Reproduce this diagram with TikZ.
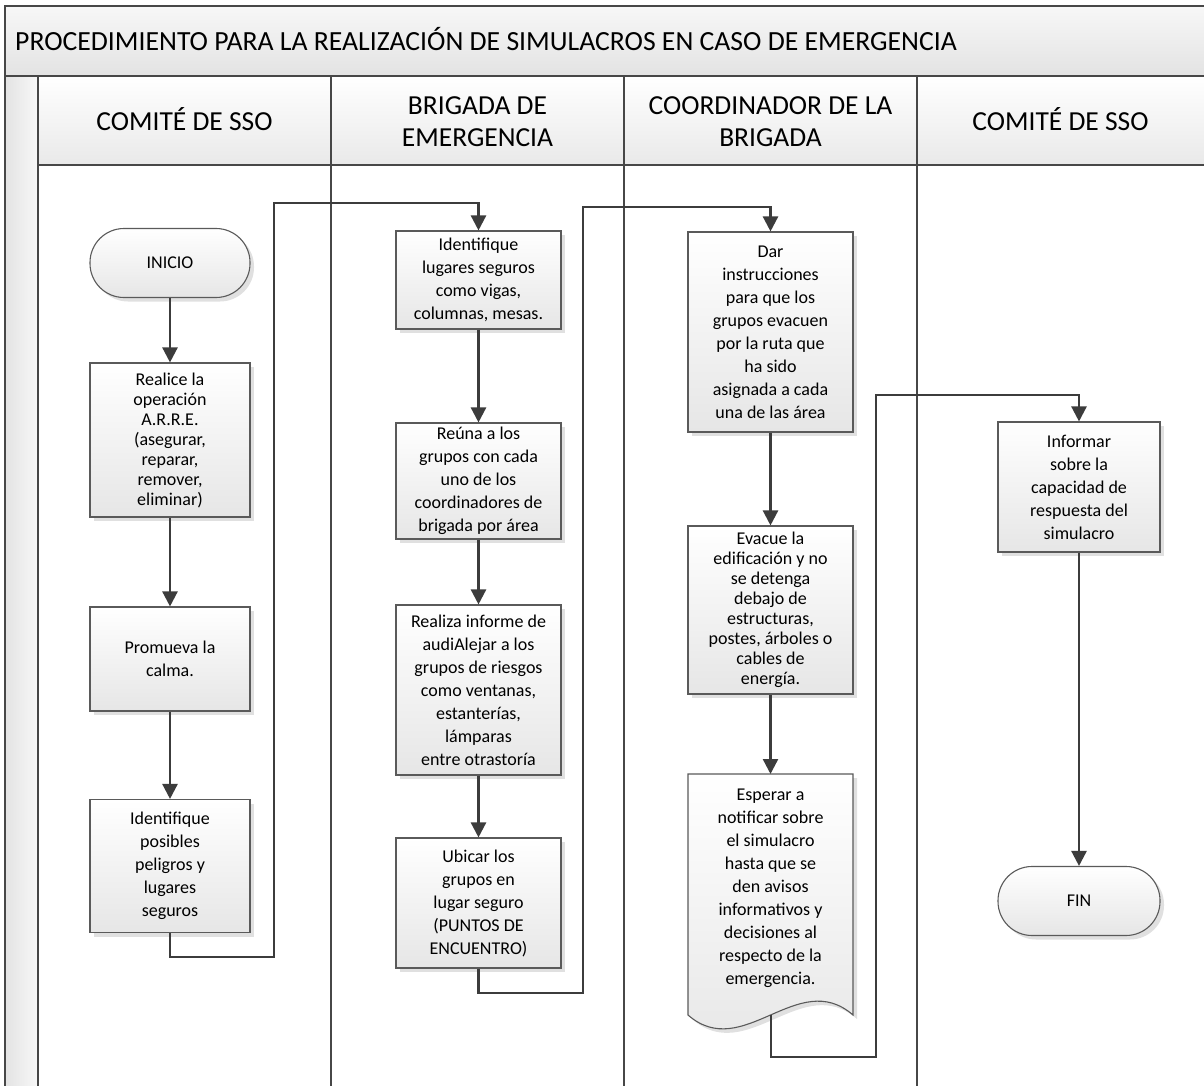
\documentclass[tikz,border=0pt]{standalone}
\usepackage{fontspec}
\setmainfont{Carlito}
\usetikzlibrary{arrows.meta,shadows}

\definecolor{framegray}{HTML}{474747}
\definecolor{linegray}{HTML}{3C3C3C}
\definecolor{boxline}{HTML}{5A5A5A}
\definecolor{cellbottom}{HTML}{E9E9E9}
\definecolor{boxbottom}{HTML}{E6E6E6}
\definecolor{stripleft}{HTML}{E3E3E3}
\definecolor{stripright}{HTML}{F8F8F8}

\newcommand{\boxfont}{\fontsize{18}{23}\selectfont}
\newcommand{\tightfont}{\fontsize{18}{20}\selectfont}
\newcommand{\headfont}{\fontsize{27.5}{32}\selectfont}
\newcommand{\titlefont}{\fontsize{27.7}{32}\selectfont}

\begin{document}
\begin{tikzpicture}[x=1pt,y=-1pt,
  frame/.style={draw=framegray, line width=1.4pt},
  cell/.style={frame, top color=white, bottom color=cellbottom},
  headtext/.style={font=\headfont, align=center, inner sep=0pt},
  stepbox/.style={draw=boxline, line width=1.1pt, top color=white,
    bottom color=boxbottom, align=center, font=\boxfont, inner sep=2pt,
    drop shadow={shadow xshift=4pt, shadow yshift=-4pt, fill=black, opacity=0.12}},
  termbox/.style={stepbox, rounded corners=34pt, minimum height=69pt},
  doctext/.style={align=center, font=\boxfont, inner sep=0pt},
  flow/.style={draw=linegray, line width=2.4pt, -{Triangle[length=15pt,width=15pt]}},
]
\useasboundingbox (0,0) rectangle (1204,1086);
\fill[white] (0,0) rectangle (1204,1086);

% pool frame: title band, side strip, lane bodies and lane headers
\path[frame, top color=white!97!black, bottom color=white!89!black] (5,6) rectangle (1215,76);
\path[frame, left color=stripleft, right color=stripright] (5,76) rectangle (38,1100);
\path[frame, fill=white] (38,165) rectangle (331,1100);
\path[frame, fill=white] (331,165) rectangle (624,1100);
\path[frame, fill=white] (624,165) rectangle (917,1100);
\path[frame, fill=white] (917,165) rectangle (1215,1100);
\path[cell] (38,76) rectangle (331,165);
\path[cell] (331,76) rectangle (624,165);
\path[cell] (624,76) rectangle (917,165);
\path[cell] (917,76) rectangle (1215,165);

\node[headtext, font=\titlefont, anchor=base west] (title) at (15,51)
  {PROCEDIMIENTO PARA LA REALIZACIÓN DE SIMULACROS EN CASO DE EMERGENCIA};
\node[headtext, anchor=base] (lane1) at (184.5,131) {COMITÉ DE SSO};
\node[headtext] (lane2) at (477.5,122) {BRIGADA DE\\EMERGENCIA};
\node[headtext] (lane3) at (770.5,122) {COORDINADOR DE LA\\BRIGADA};
\node[headtext, anchor=base] (lane4) at (1060.5,131) {COMITÉ DE SSO};

% lane 1: Comité de SSO
\node[termbox, minimum width=160pt] (inicio) at (170,263) {INICIO};
\node[stepbox, minimum width=160pt, minimum height=154pt, font=\tightfont] (a1) at (170,440)
  {Realice la\\operación\\A.R.R.E.\\(asegurar,\\reparar,\\remover,\\eliminar)};
\node[stepbox, minimum width=160pt, minimum height=104pt] (a2) at (170,659)
  {Promueva la\\calma.};
\node[stepbox, minimum width=160pt, minimum height=133pt] (a3) at (170,866)
  {Identifique\\posibles\\peligros y\\lugares\\seguros};

% lane 2: Brigada de emergencia
\node[stepbox, minimum width=165pt, minimum height=98pt] (b1) at (478.5,280)
  {Identifique\\lugares seguros\\como vigas,\\columnas, mesas.};
\node[stepbox, minimum width=165pt, minimum height=116pt] (b2) at (478.5,481)
  {Reúna a los\\grupos con cada\\uno de los\\coordinadores de\\brigada por área};
\node[stepbox, minimum width=165pt, minimum height=170pt] (b3) at (478.5,690)
  {Realiza informe de\\audiAlejar a los\\grupos de riesgos\\como ventanas,\\estanterías,\\lámparas\\entre otrastoría};
\node[stepbox, minimum width=165pt, minimum height=130pt] (b4) at (478.5,903)
  {Ubicar los\\grupos en\\lugar seguro\\(PUNTOS DE\\ENCUENTRO)};

% lane 3: Coordinador de la brigada
\node[stepbox, minimum width=165pt, minimum height=200pt] (c1) at (770.5,332)
  {Dar\\instrucciones\\para que los\\grupos evacuen\\por la ruta que\\ha sido\\asignada a cada\\una de las área};
\node[stepbox, minimum width=165pt, minimum height=168pt, font=\tightfont] (c2) at (770.5,610)
  {Evacue la\\edificación y no\\se detenga\\debajo de\\estructuras,\\postes, árboles o\\cables de\\energía.};

% document shape with wavy bottom
\fill[black, opacity=0.12] (692,778) -- (857,778) -- (857,1019)
  .. controls (802,971) and (747,1067) .. (692,1019) -- cycle;
\path[draw=boxline, line width=1.1pt, top color=white, bottom color=boxbottom]
  (688,774) -- (853,774) -- (853,1015)
  .. controls (798,967) and (743,1063) .. (688,1015) -- cycle;
\node[doctext] (c3) at (770.5,888)
  {Esperar a\\notificar sobre\\el simulacro\\hasta que se\\den avisos\\informativos y\\decisiones al\\respecto de la\\emergencia.};
\coordinate (c3t) at (770.5,774);
\coordinate (c3b) at (771,1015);

% lane 4: Comité de SSO
\node[stepbox, minimum width=162pt, minimum height=130pt] (d1) at (1079,487)
  {Informar\\sobre la\\capacidad de\\respuesta del\\simulacro};
\node[termbox, minimum width=162pt] (fin) at (1079,901) {FIN};

% bend points of the lane-crossing connectors
\coordinate (r1a) at (274,957);
\coordinate (r1b) at (274,203);
\coordinate (r2a) at (583,993);
\coordinate (r2b) at (583,207);
\coordinate (r3a) at (876,1057);
\coordinate (r3b) at (876,395);

% connectors
\draw[flow] (inicio) -- (a1);
\draw[flow] (a1) -- (a2);
\draw[flow] (a2) -- (a3);
\draw[flow] (a3.south) |- (r1a) -- (r1b) -| (b1.north);
\draw[flow] (b1) -- (b2);
\draw[flow] (b2) -- (b3);
\draw[flow] (b3) -- (b4);
\draw[flow] (b4.south) |- (r2a) -- (r2b) -| (c1.north);
\draw[flow] (c1) -- (c2);
\draw[flow] (c2.south) -- (c3t);
\draw[flow] (c3b) |- (r3a) -- (r3b) -| (d1.north);
\draw[flow] (d1) -- (fin);
\end{tikzpicture}
\end{document}
